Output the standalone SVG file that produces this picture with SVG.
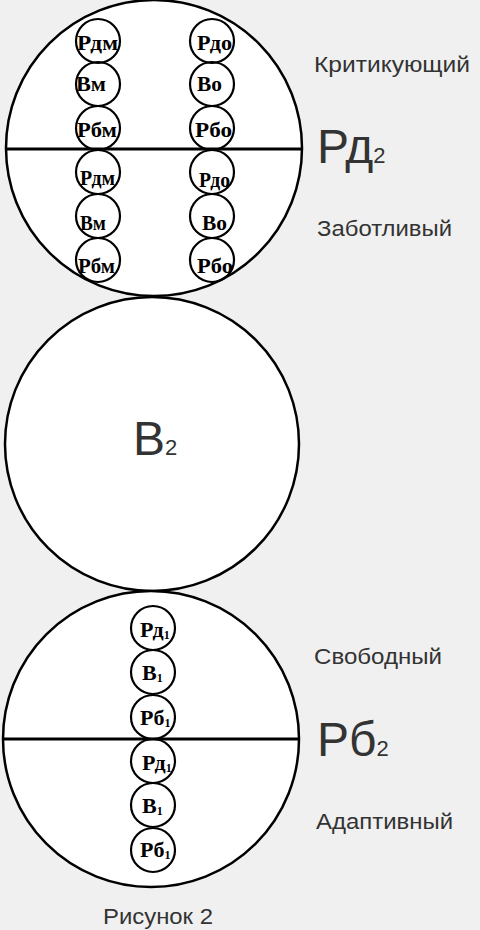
<svg xmlns="http://www.w3.org/2000/svg" width="480" height="930" viewBox="0 0 480 930">
<style>
.big{fill:#fff;stroke:#000;stroke-width:2.5}
.sm{fill:none;stroke:#000;stroke-width:2.2}
.div{stroke:#000;stroke-width:2.8}
.lb{font-family:"Liberation Serif",serif;font-weight:bold;font-size:22px;fill:#000}
.sub{font-size:12px}
.cap{font-family:"Liberation Sans",Arial,sans-serif;fill:#333}
.t{font-size:22px}
.big2{font-size:48px}
.s2{font-size:22px}
</style>
<rect width="480" height="930" fill="#f0f0f0"/>
<g id="circle-rd2">
<circle class="big" cx="154" cy="148" r="148"/>
<line class="div" x1="6" y1="149" x2="302" y2="149"/>
</g>
<g id="circle-v2">
<circle class="big" cx="152" cy="444" r="147"/>
<text class="cap big2" x="133" y="455">В<tspan class="s2">2</tspan></text>
</g>
<g id="circle-rb2">
<circle class="big" cx="151" cy="739" r="148"/>
<line class="div" x1="3" y1="739" x2="299" y2="739"/>
</g>
<g id="top-left">
<circle class="sm" cx="98" cy="41" r="22"/><text class="lb" x="77" y="50" textLength="41" lengthAdjust="spacingAndGlyphs">Рдм</text>
<circle class="sm" cx="98" cy="84" r="22"/><text class="lb" x="76" y="91" textLength="30" lengthAdjust="spacingAndGlyphs">Вм</text>
<circle class="sm" cx="98" cy="128" r="22"/><text class="lb" x="77" y="137" textLength="40" lengthAdjust="spacingAndGlyphs">Рбм</text>
<circle class="sm" cx="98" cy="172" r="22"/><text class="lb" x="80" y="185" textLength="35" lengthAdjust="spacingAndGlyphs">Рдм</text>
<circle class="sm" cx="98" cy="216" r="22"/><text class="lb" x="80" y="230" textLength="26" lengthAdjust="spacingAndGlyphs">Вм</text>
<circle class="sm" cx="98" cy="260" r="22"/><text class="lb" x="78" y="273" textLength="37" lengthAdjust="spacingAndGlyphs">Рбм</text>
</g>
<g id="top-right">
<circle class="sm" cx="212" cy="41" r="22"/><text class="lb" x="197" y="50" textLength="35" lengthAdjust="spacingAndGlyphs">Рдо</text>
<circle class="sm" cx="212" cy="84" r="22"/><text class="lb" x="197" y="91" textLength="25" lengthAdjust="spacingAndGlyphs">Во</text>
<circle class="sm" cx="212" cy="128" r="22"/><text class="lb" x="195" y="137" textLength="37" lengthAdjust="spacingAndGlyphs">Рбо</text>
<circle class="sm" cx="212" cy="172" r="22"/><text class="lb" x="199" y="187" textLength="31" lengthAdjust="spacingAndGlyphs">Рдо</text>
<circle class="sm" cx="212" cy="216" r="22"/><text class="lb" x="202" y="230" textLength="25" lengthAdjust="spacingAndGlyphs">Во</text>
<circle class="sm" cx="212" cy="260" r="22"/><text class="lb" x="197" y="273" textLength="36" lengthAdjust="spacingAndGlyphs">Рбо</text>
</g>
<g id="bottom-col">
<circle class="sm" cx="153" cy="628" r="22"/><text class="lb" x="140" y="637">Рд<tspan class="sub" dy="2">1</tspan></text>
<circle class="sm" cx="153" cy="672" r="22"/><text class="lb" x="142" y="680">В<tspan class="sub" dy="2">1</tspan></text>
<circle class="sm" cx="153" cy="717" r="22"/><text class="lb" x="140" y="725">Рб<tspan class="sub" dy="2">1</tspan></text>
<circle class="sm" cx="153" cy="761" r="22"/><text class="lb" x="142" y="770">Рд<tspan class="sub" dy="2">1</tspan></text>
<circle class="sm" cx="153" cy="805" r="22"/><text class="lb" x="142" y="813">В<tspan class="sub" dy="2">1</tspan></text>
<circle class="sm" cx="153" cy="850" r="22"/><text class="lb" x="140" y="857">Рб<tspan class="sub" dy="2">1</tspan></text>
</g>
<g id="labels">
<text class="cap t" x="314" y="72" textLength="156" lengthAdjust="spacingAndGlyphs">Критикующий</text>
<text class="cap big2" x="317" y="163">Рд<tspan class="s2">2</tspan></text>
<text class="cap t" x="317" y="236" textLength="135" lengthAdjust="spacingAndGlyphs">Заботливый</text>
<text class="cap t" x="314" y="664" textLength="128" lengthAdjust="spacingAndGlyphs">Свободный</text>
<text class="cap big2" x="317" y="756">Рб<tspan class="s2">2</tspan></text>
<text class="cap t" x="316" y="829" textLength="137" lengthAdjust="spacingAndGlyphs">Адаптивный</text>
<text class="cap t" x="103" y="924" textLength="110" lengthAdjust="spacingAndGlyphs">Рисунок 2</text>
</g>
</svg>
